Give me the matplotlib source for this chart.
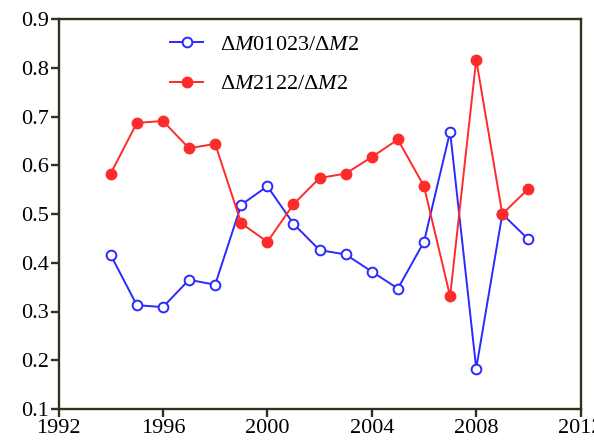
import matplotlib.pyplot as plt

plt.rcParams['font.family'] = 'Liberation Serif'
plt.rcParams['mathtext.fontset'] = 'custom'
plt.rcParams['mathtext.rm'] = 'Liberation Serif'
plt.rcParams['mathtext.it'] = 'Liberation Serif:italic'

years = [1994, 1995, 1996, 1997, 1998, 1999, 2000, 2001, 2002,
         2003, 2004, 2005, 2006, 2007, 2008, 2009, 2010]
ratio_01023 = [0.416, 0.313, 0.309, 0.365, 0.355, 0.519, 0.557, 0.480, 0.426,
               0.417, 0.382, 0.347, 0.443, 0.669, 0.183, 0.500, 0.448]
ratio_2122 = [0.583, 0.687, 0.691, 0.635, 0.644, 0.481, 0.443, 0.520, 0.574,
              0.583, 0.617, 0.653, 0.557, 0.331, 0.817, 0.500, 0.552]
xticks = [1992, 1996, 2000, 2004, 2008, 2012]
yticks = [0.1, 0.2, 0.3, 0.4, 0.5, 0.6, 0.7, 0.8, 0.9]

fig = plt.figure(figsize=(5.94, 4.45), dpi=100)
ax = fig.add_axes([0.0985, 0.081, 0.879, 0.876])

ax.plot(years, ratio_01023, color='#2a2aff', lw=1.4, marker='o', ms=7,
        mfc='white', mec='#2a2aff', mew=1.4, label=r'$\Delta M$01023/$\Delta M$2')
ax.plot(years, ratio_2122, color='#ff2a2a', lw=1.4, marker='o', ms=7.5,
        mfc='#ff2a2a', mec='#ff2a2a', label=r'$\Delta M$2122/$\Delta M$2')

ax.set_xlim(1992, 2012)
ax.set_ylim(0.1, 0.9)
ax.set_xticks(xticks)
ax.set_yticks(yticks)
ax.set_yticklabels([f'{v:.1f}' for v in yticks])

frame = '#2e3320'
for s in ax.spines.values():
    s.set_color(frame)
    s.set_linewidth(1.7)
ax.tick_params(direction='out', length=6, width=1.7, color=frame,
               labelsize=16, pad=1)

ax.legend(loc='upper left', bbox_to_anchor=(0.175, 1.012), frameon=False,
          fontsize=16, handlelength=1.5, labelspacing=0.85, handletextpad=0.75)

fig.savefig('out.png', dpi=100)
